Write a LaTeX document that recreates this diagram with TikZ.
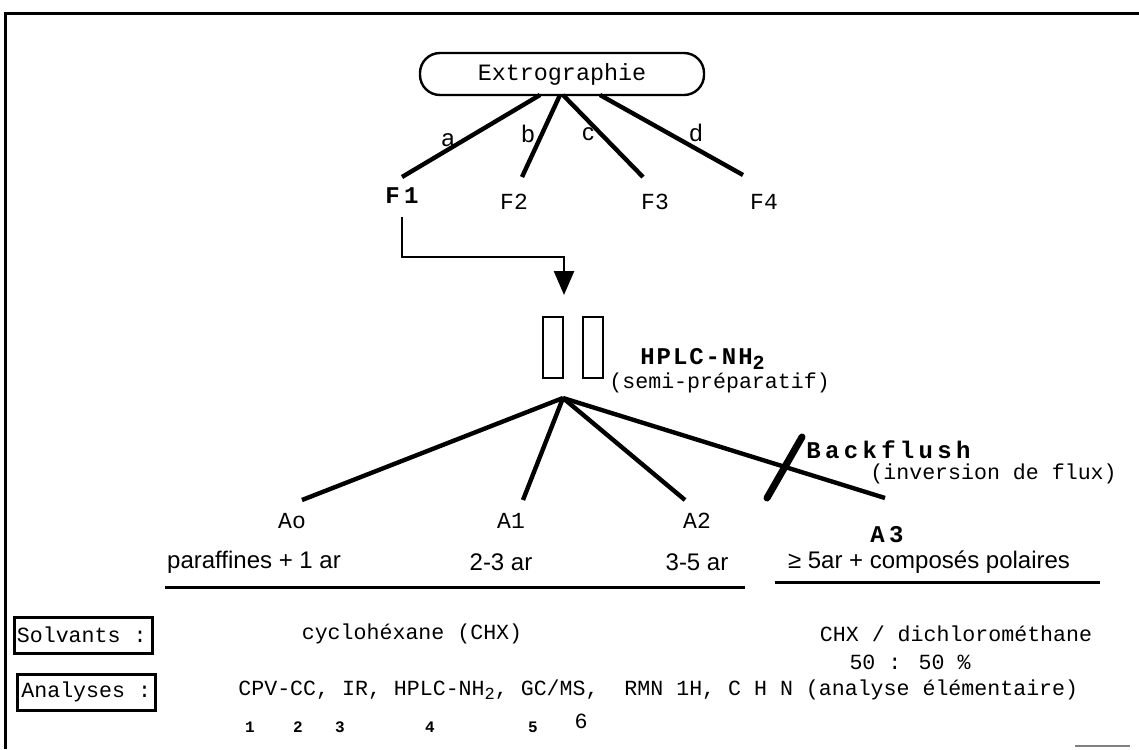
\documentclass[tikz,border=0pt]{standalone}
\usepackage{fontspec}
\setmainfont{Liberation Sans}
\newfontfamily\mono{Liberation Mono}
\newfontfamily\monosp[LetterSpace=18]{Liberation Mono}
\newfontfamily\monospl[LetterSpace=8]{Liberation Mono}
\usetikzlibrary{arrows.meta,calc}
\newcommand\lowsub[2][8.5]{\raisebox{-0.35ex}{\fontsize{#1}{9}\selectfont #2}}
\begin{document}
\begin{tikzpicture}[x=0.5pt,y=-0.5pt,
  conn/.style={line width=2.2pt},
  mtext/.style={font=\mono\fontsize{10.8}{12}\selectfont, inner sep=0pt},
  ftext/.style={font=\mono\fontsize{11.5}{13}\selectfont, inner sep=0pt},
  btext/.style={font=\monosp\bfseries\fontsize{12}{13}\selectfont, inner sep=0pt},
  stext/.style={font=\fontsize{12}{13}\selectfont, inner sep=0pt},
  numtext/.style={font=\mono\bfseries\fontsize{8}{9}\selectfont, inner sep=0pt},
  rbox/.style={draw, line width=1.2pt, rounded corners=10pt, minimum width=142pt, minimum height=21pt, inner sep=0pt, font=\mono\fontsize{11.7}{13}\selectfont},
  colbox/.style={draw, line width=1pt, minimum width=10pt, minimum height=30.5pt, inner sep=0pt},
  labbox/.style={draw, line width=1.5pt, minimum width=69pt, minimum height=18pt, inner sep=0pt}
]
\useasboundingbox (0,0) rectangle (1139,749);
% frame
\draw[line width=1.5pt] (5,749) -- (5,14) -- (1139,14);
\draw[line width=0.6pt, gray] (1075,746) -- (1130,746);

% Extrographie
\node[rbox] (ext) at (562,74) {Extrographie};
\coordinate (ea) at (540,95);
\coordinate (eb) at (560,95);
\coordinate (ec) at (563,95);
\coordinate (ed) at (600,95);
\coordinate (f1e) at (402,177);
\coordinate (f2e) at (522,177);
\coordinate (f3e) at (643,177);
\coordinate (f4e) at (743,175);
\node[btext] (F1) at (402,196) {F1};
\node[ftext] (F2) at (514,202) {F2};
\node[ftext] (F3) at (655,202) {F3};
\node[ftext] (F4) at (764,202) {F4};
\draw[conn] (ea) -- (f1e);
\draw[conn] (eb) -- (f2e);
\draw[conn] (ec) -- (f3e);
\draw[conn] (ed) -- (f4e);
\node[stext] (la) at (448,140) {a};
\node[stext] (lb) at (528,134) {b};
\node[stext] (lc) at (588,134) {c};
\node[stext] (ld) at (696,133) {d};

% columns
\node[colbox] (col1) at (553,347.5) {};
\node[colbox] (col2) at (593,347.5) {};
\coordinate (tip) at ($(col1.north east)+(0,-21)$);
\draw[line width=1.3pt, -{Triangle[length=12pt,width=10pt]}] ($(F1.center)+(0,21)$) |- ($(tip)+(0,-38)$) -- (tip);
\node[font=\monospl\bfseries\fontsize{12}{13}\selectfont, inner sep=0pt, anchor=west] (hplc) at (640,359) {HPLC-NH\lowsub[10]{\bfseries 2}};
\node[mtext, anchor=west] (semi) at (609,383) {(semi-préparatif)};

% fan
\coordinate (apex) at (563,398);
\coordinate (a0e) at (302,500);
\coordinate (a1e) at (523,500);
\coordinate (a2e) at (685,500);
\coordinate (a3e) at (885,498);
\draw[conn] (apex) -- (a0e);
\draw[conn] (apex) -- (a1e);
\draw[conn] (apex) -- (a2e);
\draw[conn] (apex) -- (a3e);
\coordinate (bfa) at (767,498);
\coordinate (bfb) at (802,437);
\draw[line width=3.5pt, line cap=round] (bfa) -- (bfb);
\node[btext, anchor=west] (bf) at (806,450) {Backflush};
\node[mtext, anchor=west] (inv) at (870,474) {(inversion de flux)};

\node[ftext] (A0) at (292,521) {Ao};
\node[ftext] (A1) at (511,521) {A1};
\node[ftext] (A2) at (697,521) {A2};
\node[btext] (A3) at (887,535) {A3};

\node[stext] (t0) at (254,562) {paraffines + 1 ar};
\node[stext] (t1) at (501,562) {2-3 ar};
\node[stext] (t2) at (697,562) {3-5 ar};
\node[stext] (t3) at (929,562) {≥ 5ar + composés polaires};
\draw[line width=1.5pt] (165,587) -- (745,587);
\draw[line width=1.5pt] (775,582) -- (1100,582);

% bottom rows
\node[labbox] (solv) at (83,635) {};
\node[mtext, anchor=west] at ($(solv.west)+(4,0)$) {Solvants :};
\node[labbox] (anal) at (86.5,692) {};
\node[mtext, anchor=west] at ($(anal.west)+(5,0)$) {Analyses :};

\node[mtext] (cyc) at (412,634) {cyclohéxane (CHX)};
\node[mtext] (dcm) at (956,634) {CHX / dichlorométhane};
\node[mtext] (ratio) at (910,662) {50 : 50 \%};
\node[mtext, anchor=west] (anl) at (238,690) {CPV-CC, IR, HPLC-NH\lowsub{2}, GC/MS,\ \ RMN 1H, C H N (analyse élémentaire)};
\node[numtext] at (250,727) {1};
\node[numtext] at (298,727) {2};
\node[numtext] at (340,727) {3};
\node[numtext] at (430,727) {4};
\node[numtext] at (533,727) {5};
\node[mtext] at (581,721) {6};
\end{tikzpicture}
\end{document}
